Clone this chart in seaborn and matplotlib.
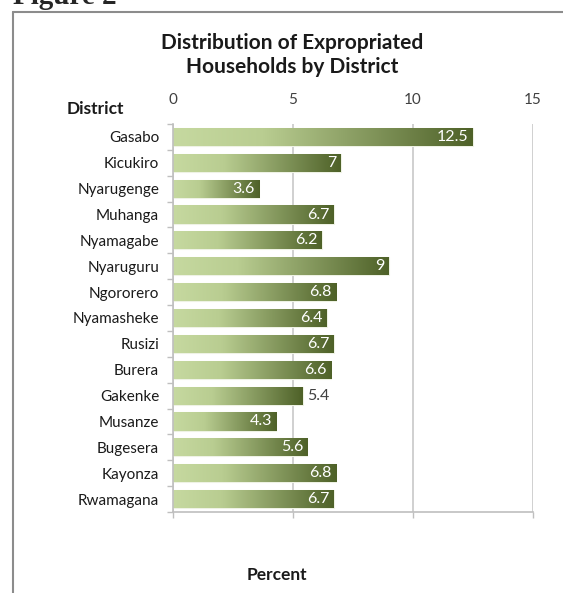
import numpy as np
import pandas as pd
import seaborn as sns
import matplotlib.pyplot as plt
from matplotlib.colors import LinearSegmentedColormap
from matplotlib.lines import Line2D

districts = ['Gasabo', 'Kicukiro', 'Nyarugenge', 'Muhanga', 'Nyamagabe', 'Nyaruguru',
             'Ngororero', 'Nyamasheke', 'Rusizi', 'Burera', 'Gakenke', 'Musanze',
             'Bugesera', 'Kayonza', 'Rwamagana']
percent = [12.5, 7, 3.6, 6.7, 6.2, 9, 6.8, 6.4, 6.7, 6.6, 5.4, 4.3, 5.6, 6.8, 6.7]
x_ticks = [0, 5, 10, 15]
outside_labels = ['Gakenke']

sns.set_style('white')
plt.rcParams['font.family'] = ['Lato', 'DejaVu Sans']

df = pd.DataFrame({'District': districts, 'Percent': percent})

fig = plt.figure(figsize=(5.63, 5.93), dpi=100)
ax = fig.add_axes([0.3073, 0.1366, 0.6394, 0.6543])

sns.barplot(data=df, x='Percent', y='District', orient='h', ax=ax, width=0.7,
            color='#c3d69b', edgecolor='#eef2e4', linewidth=0.8, zorder=2)

# gradient fill for each bar
cmap = LinearSegmentedColormap.from_list('grn', [(0, '#c6d9a0'), (0.3, '#b9cd91'), (1, '#4e6128')])
grad = np.linspace(0, 1, 256).reshape(1, -1)
for p in ax.patches:
    x0, y0 = p.get_x(), p.get_y()
    w, h = p.get_width(), p.get_height()
    im = ax.imshow(grad, cmap=cmap, aspect='auto', extent=[x0, x0 + w, y0 + h, y0],
                   zorder=2.5, interpolation='bilinear')
    im.set_clip_path(p)

ax.set_xlim(0, 15)
ax.set_ylim(len(districts) - 0.5, -0.5)

# data labels
for i, (d, v) in enumerate(zip(districts, percent)):
    lab = '{:g}'.format(v)
    if d in outside_labels:
        ax.text(v + 0.18, i, lab, ha='left', va='center', color='#404040', fontsize=11.5, zorder=4)
    else:
        ax.text(v - 0.18, i, lab, ha='right', va='center', color='white', fontsize=11.5, zorder=4)

# axes styling
ax.set_xticks(x_ticks)
ax.xaxis.grid(True, color='#c8c8c8', linewidth=1.2, zorder=0)
ax.set_axisbelow(True)
ax.tick_params(axis='x', labeltop=True, labelbottom=False, top=False, bottom=True,
               length=4, width=1, color='#bfbfbf', pad=8, labelsize=11, labelcolor='#404040')
ax.set_yticks(np.arange(len(districts) + 1) - 0.5, minor=True)
ax.tick_params(axis='y', which='major', length=0, pad=10, labelsize=11, labelcolor='#1a1a1a')
ax.tick_params(axis='y', which='minor', length=4, width=1, color='#bfbfbf', left=True)
for s in ['top', 'right']:
    ax.spines[s].set_visible(False)
for s in ['left', 'bottom']:
    ax.spines[s].set_color('#bfbfbf')
    ax.spines[s].set_linewidth(1.2)
ax.set_xlabel('')
ax.set_ylabel('')

# titles and axis names
fig.text(292 / 563, 1 - 55 / 593, 'Distribution of Expropriated\nHouseholds by District',
         ha='center', va='center', fontsize=15, fontweight='bold', linespacing=1.2, color='#1a1a1a')
fig.text(95 / 563, 1 - 109 / 593, 'District', ha='center', va='center',
         fontsize=12.5, fontweight='bold', color='#1a1a1a')
fig.text(277 / 563, 1 - 575 / 593, 'Percent', ha='center', va='center',
         fontsize=12.5, fontweight='bold', color='#1a1a1a')

# page frame and caption
fig.add_artist(Line2D([13 / 563, 13 / 563], [0, 1 - 12 / 593], color='#8c8c8c', linewidth=1.5))
fig.add_artist(Line2D([13 / 563, 1], [1 - 12 / 593, 1 - 12 / 593], color='#8c8c8c', linewidth=1.5))
fig.text(13 / 563, 1 - 4 / 593, 'Figure 2', ha='left', va='baseline', fontsize=21,
         fontweight='bold', family=['Liberation Serif', 'DejaVu Serif'])

fig.savefig('out.png', dpi=100)
